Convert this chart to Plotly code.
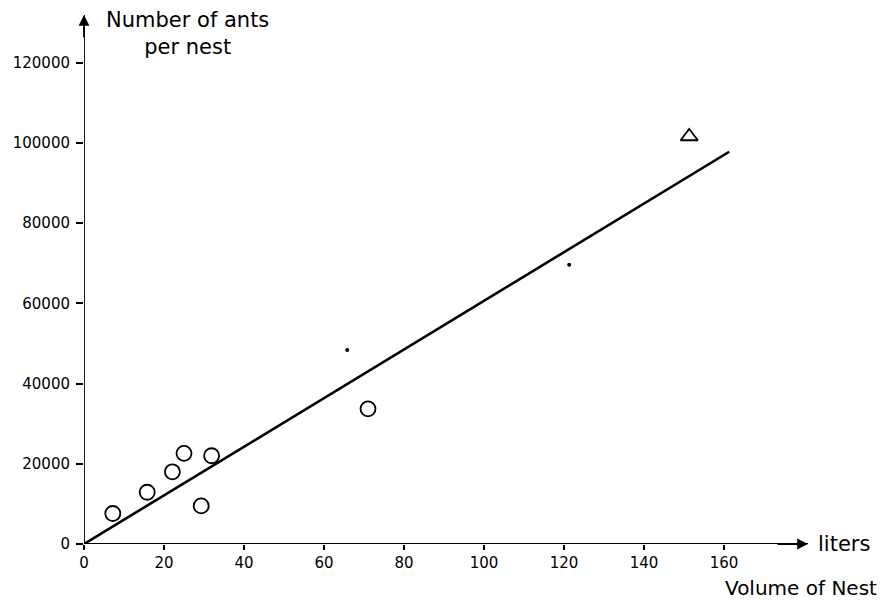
import plotly.graph_objects as go

# Data
circle_x = [7.2, 15.8, 22.1, 25.0, 29.3, 31.9, 71.0]
circle_y = [7600, 12900, 18000, 22600, 9500, 22000, 33700]
dot_x = [65.8, 121.3]
dot_y = [48400, 69600]
tri_x = [151.3]
tri_y = [101600]
fit_x = [0, 161.3]
fit_y = [0, 97800]

x_ticks = [0, 20, 40, 60, 80, 100, 120, 140, 160]
y_ticks = [0, 20000, 40000, 60000, 80000, 100000, 120000]

X_MAX = 181
Y_MAX = 131900
FONT = "DejaVu Sans"

fig = go.Figure()
fig.add_trace(go.Scatter(x=fit_x, y=fit_y, mode="lines",
                         line=dict(color="black", width=2.6), showlegend=False))
fig.add_trace(go.Scatter(x=circle_x, y=circle_y, mode="markers",
                         marker=dict(symbol="circle-open", size=15, color="black",
                                     line=dict(width=1.8, color="black")),
                         cliponaxis=False, showlegend=False))
fig.add_trace(go.Scatter(x=dot_x, y=dot_y, mode="markers",
                         marker=dict(symbol="circle", size=4, color="black"),
                         showlegend=False))
fig.add_trace(go.Scatter(x=tri_x, y=tri_y, mode="markers",
                         marker=dict(symbol="triangle-up-open", size=15, color="black",
                                     line=dict(width=1.8, color="black")),
                         showlegend=False))

# axis arrowheads
fig.add_annotation(x=X_MAX, y=0, ax=X_MAX - 8, ay=0, xref="x", yref="y",
                   axref="x", ayref="y", showarrow=True, arrowhead=2,
                   arrowsize=1.2, arrowwidth=1.8, arrowcolor="black", text="")
fig.add_annotation(x=0, y=Y_MAX, ax=0, ay=Y_MAX - 6000, xref="x", yref="y",
                   axref="x", ayref="y", showarrow=True, arrowhead=2,
                   arrowsize=1.2, arrowwidth=1.8, arrowcolor="black", text="")

fig.add_annotation(x=X_MAX, y=0, xref="x", yref="y", xanchor="left", yanchor="middle",
                   xshift=8, text="liters", showarrow=False,
                   font=dict(family=FONT, size=21, color="black"))
fig.add_annotation(x=1, y=0, xref="paper", yref="paper", xanchor="right", yanchor="top",
                   xshift=71, yshift=-30, text="Volume of Nest", showarrow=False,
                   font=dict(family=FONT, size=20, color="black"))
fig.add_annotation(x=0, y=1, xref="paper", yref="paper", xanchor="left", yanchor="top",
                   xshift=20, yshift=9, text="Number of ants<br>per nest", showarrow=False,
                   align="center", font=dict(family=FONT, size=21, color="black"))

fig.update_xaxes(range=[0, X_MAX], tickvals=x_ticks, ticktext=[str(v) for v in x_ticks],
                 showgrid=False, zeroline=False, showline=False,
                 ticks="outside", ticklen=5, tickwidth=1.5, tickcolor="black",
                 tickfont=dict(family=FONT, size=15, color="black"))
fig.update_yaxes(range=[0, Y_MAX], tickvals=y_ticks, ticktext=[str(v) for v in y_ticks],
                 showgrid=False, zeroline=False, showline=False,
                 ticks="outside", ticklen=7, tickwidth=1.5, tickcolor="black",
                 ticklabelstandoff=3,
                 tickfont=dict(family=FONT, size=15, color="black"))

# axis lines
fig.add_shape(type="line", xref="x", yref="y", x0=-3, y0=0, x1=X_MAX, y1=0,
              line=dict(color="black", width=1.8))
fig.add_shape(type="line", xref="x", yref="y", x0=0, y0=0, x1=0, y1=Y_MAX,
              line=dict(color="black", width=1.8))

fig.update_layout(width=888, height=602, margin=dict(l=84, r=80, t=15, b=58),
                  paper_bgcolor="white", plot_bgcolor="white",
                  font=dict(family=FONT, color="black"))

fig.write_html("out.html")
